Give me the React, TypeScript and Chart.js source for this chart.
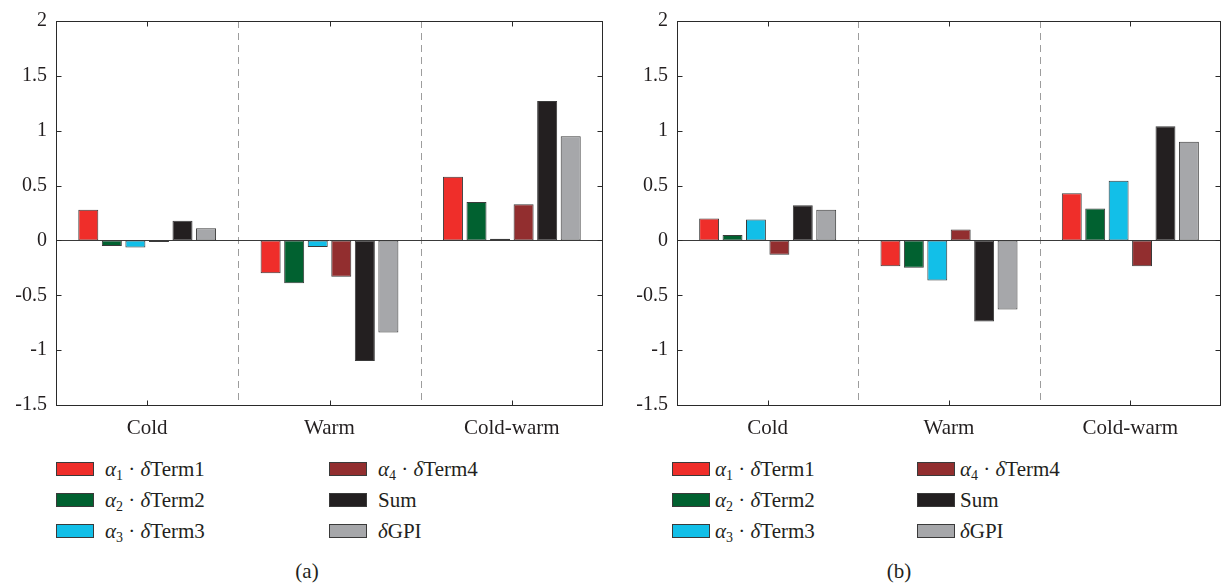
import React, { useEffect, useRef } from "react";
import { Chart, registerables } from "chart.js";

Chart.register(...registerables);

const categories = ["Cold", "Warm", "Cold-warm"];
const seriesNames = ["α1 · δTerm1", "α2 · δTerm2", "α3 · δTerm3", "α4 · δTerm4", "Sum", "δGPI"];
const seriesColors = ["#EF2E2A", "#016130", "#12BFE8", "#922E2F", "#231F20", "#A6A7AA"];

// Panel (a)
const aTerm1 = [0.28, -0.3, 0.58];
const aTerm2 = [-0.05, -0.39, 0.35];
const aTerm3 = [-0.065, -0.06, 0.015];
const aTerm4 = [-0.015, -0.33, 0.33];
const aSum = [0.18, -1.1, 1.27];
const aGPI = [0.11, -0.84, 0.95];

// Panel (b)
const bTerm1 = [0.2, -0.235, 0.43];
const bTerm2 = [0.05, -0.25, 0.29];
const bTerm3 = [0.19, -0.365, 0.545];
const bTerm4 = [-0.13, 0.1, -0.235];
const bSum = [0.32, -0.74, 1.04];
const bGPI = [0.28, -0.63, 0.9];

const yTicks = [-1.5, -1, -0.5, 0, 0.5, 1, 1.5, 2];

const FONT = "'Liberation Serif', 'DejaVu Serif', serif";
const INK = "#231F20";

const framePlugin = {
  id: "framePlugin",
  beforeDatasetsDraw(chart: any) {
    const { ctx, chartArea } = chart;
    const x = chart.scales.x;
    const y = chart.scales.y;
    ctx.save();
    ctx.strokeStyle = "#9d9d9d";
    ctx.lineWidth = 1;
    ctx.setLineDash([7, 5]);
    for (let i = 0; i < categories.length - 1; i++) {
      const px = Math.round((x.getPixelForValue(i) + x.getPixelForValue(i + 1)) / 2) + 0.5;
      ctx.beginPath();
      ctx.moveTo(px, chartArea.top);
      ctx.lineTo(px, chartArea.bottom);
      ctx.stroke();
    }
    ctx.setLineDash([]);
    const py = Math.round(y.getPixelForValue(0)) + 0.5;
    ctx.strokeStyle = "#3a3a3a";
    ctx.beginPath();
    ctx.moveTo(chartArea.left, py);
    ctx.lineTo(chartArea.right, py);
    ctx.stroke();
    ctx.restore();
  },
  afterDatasetsDraw(chart: any) {
    const { ctx, chartArea } = chart;
    const x = chart.scales.x;
    const y = chart.scales.y;
    ctx.save();
    ctx.strokeStyle = "#2a2a2a";
    ctx.lineWidth = 1;
    const l = Math.round(chartArea.left) + 0.5;
    const r = Math.round(chartArea.right) - 0.5;
    const t = Math.round(chartArea.top) + 0.5;
    const b = Math.round(chartArea.bottom) + 0.5;
    ctx.strokeRect(l, t, r - l, b - t);
    const tl = 5;
    ctx.beginPath();
    for (const v of yTicks) {
      const py = Math.round(y.getPixelForValue(v)) + 0.5;
      ctx.moveTo(l, py);
      ctx.lineTo(l + tl, py);
      ctx.moveTo(r, py);
      ctx.lineTo(r - tl, py);
    }
    for (let i = 0; i < categories.length; i++) {
      const px = Math.round(x.getPixelForValue(i)) + 0.5;
      ctx.moveTo(px, t);
      ctx.lineTo(px, t + tl);
      ctx.moveTo(px, b);
      ctx.lineTo(px, b - tl);
    }
    ctx.stroke();
    ctx.restore();
  },
};

function BarPanel({ data, yWidth, padRight }: { data: number[][]; yWidth: number; padRight: number }) {
  const ref = useRef<HTMLCanvasElement | null>(null);
  useEffect(() => {
    if (!ref.current) return;
    const chart = new Chart(ref.current, {
      type: "bar",
      data: {
        labels: categories,
        datasets: data.map((d, i) => ({
          label: seriesNames[i],
          data: d,
          backgroundColor: seriesColors[i],
          borderColor: "#3a3a3a",
          borderWidth: 1,
          borderSkipped: false,
          categoryPercentage: 0.775,
          barPercentage: 0.85,
        })),
      },
      options: {
        animation: false,
        responsive: false,
        maintainAspectRatio: false,
        layout: { padding: { top: 15, right: padRight, left: 0, bottom: 0 } },
        plugins: { legend: { display: false }, tooltip: { enabled: false } },
        scales: {
          x: {
            grid: { display: false, drawTicks: false },
            border: { display: false },
            ticks: { font: { family: FONT, size: 21 }, color: INK, padding: 11 },
            afterFit: (s: any) => {
              s.height = 35;
            },
          },
          y: {
            min: -1.5,
            max: 2,
            grid: { display: false, drawTicks: false },
            border: { display: false },
            afterBuildTicks: (s: any) => {
              s.ticks = yTicks.map((v) => ({ value: v }));
            },
            ticks: {
              font: { family: FONT, size: 20 },
              color: INK,
              padding: 9,
              callback: (v: any) => String(v),
            },
            afterFit: (s: any) => {
              s.width = yWidth;
            },
          },
        },
      },
      plugins: [framePlugin],
    });
    return () => chart.destroy();
  }, []);
  return <canvas ref={ref} width={611} height={440} style={{ width: 611, height: 440, display: "block" }} />;
}

function LegendLabel({ idx }: { idx: number }) {
  const sub = { fontSize: 14, verticalAlign: "-4px", lineHeight: 0 } as React.CSSProperties;
  if (idx < 4) {
    return (
      <span>
        <i>α</i>
        <span style={sub}>{idx + 1}</span> · <i>δ</i>Term{idx + 1}
      </span>
    );
  }
  if (idx === 4) return <span>Sum</span>;
  return (
    <span>
      <i>δ</i>GPI
    </span>
  );
}

function Legend({ left, col2, textGap }: { left: number; col2: number; textGap: number }) {
  const rows = [469, 500, 531];
  const items: React.ReactNode[] = [];
  for (let i = 0; i < 6; i++) {
    const col = i < 3 ? 0 : 1;
    const row = i % 3;
    const x = col === 0 ? left : col2;
    const cy = rows[row];
    items.push(
      <div key={"s" + i} style={{ position: "absolute", left: x, top: cy - 7, width: 36, height: 12, background: seriesColors[i], border: "1px solid #3a3a3a" }} />
    );
    items.push(
      <div key={"t" + i} style={{ position: "absolute", left: x + textGap, top: cy - 13, height: 26, lineHeight: "26px", fontSize: 21, fontFamily: FONT, color: INK, whiteSpace: "nowrap" }}>
        <LegendLabel idx={i} />
      </div>
    );
  }
  return <>{items}</>;
}

export default function App() {
  return (
    <div style={{ position: "absolute", left: 0, top: 0, width: 1223, height: 586, background: "#fff", overflow: "hidden" }}>
      <div style={{ position: "absolute", left: 0, top: 0 }}>
        <BarPanel data={[aTerm1, aTerm2, aTerm3, aTerm4, aSum, aGPI]} yWidth={56} padRight={8} />
      </div>
      <div style={{ position: "absolute", left: 611, top: 0 }}>
        <BarPanel data={[bTerm1, bTerm2, bTerm3, bTerm4, bSum, bGPI]} yWidth={66} padRight={1} />
      </div>
      <Legend left={56} col2={329} textGap={49} />
      <Legend left={672} col2={917} textGap={43} />
      <div style={{ position: "absolute", left: 287, width: 40, textAlign: "center", top: 559, fontSize: 21, fontFamily: FONT, color: INK }}>(a)</div>
      <div style={{ position: "absolute", left: 879, width: 40, textAlign: "center", top: 559, fontSize: 21, fontFamily: FONT, color: INK }}>(b)</div>
    </div>
  );
}
